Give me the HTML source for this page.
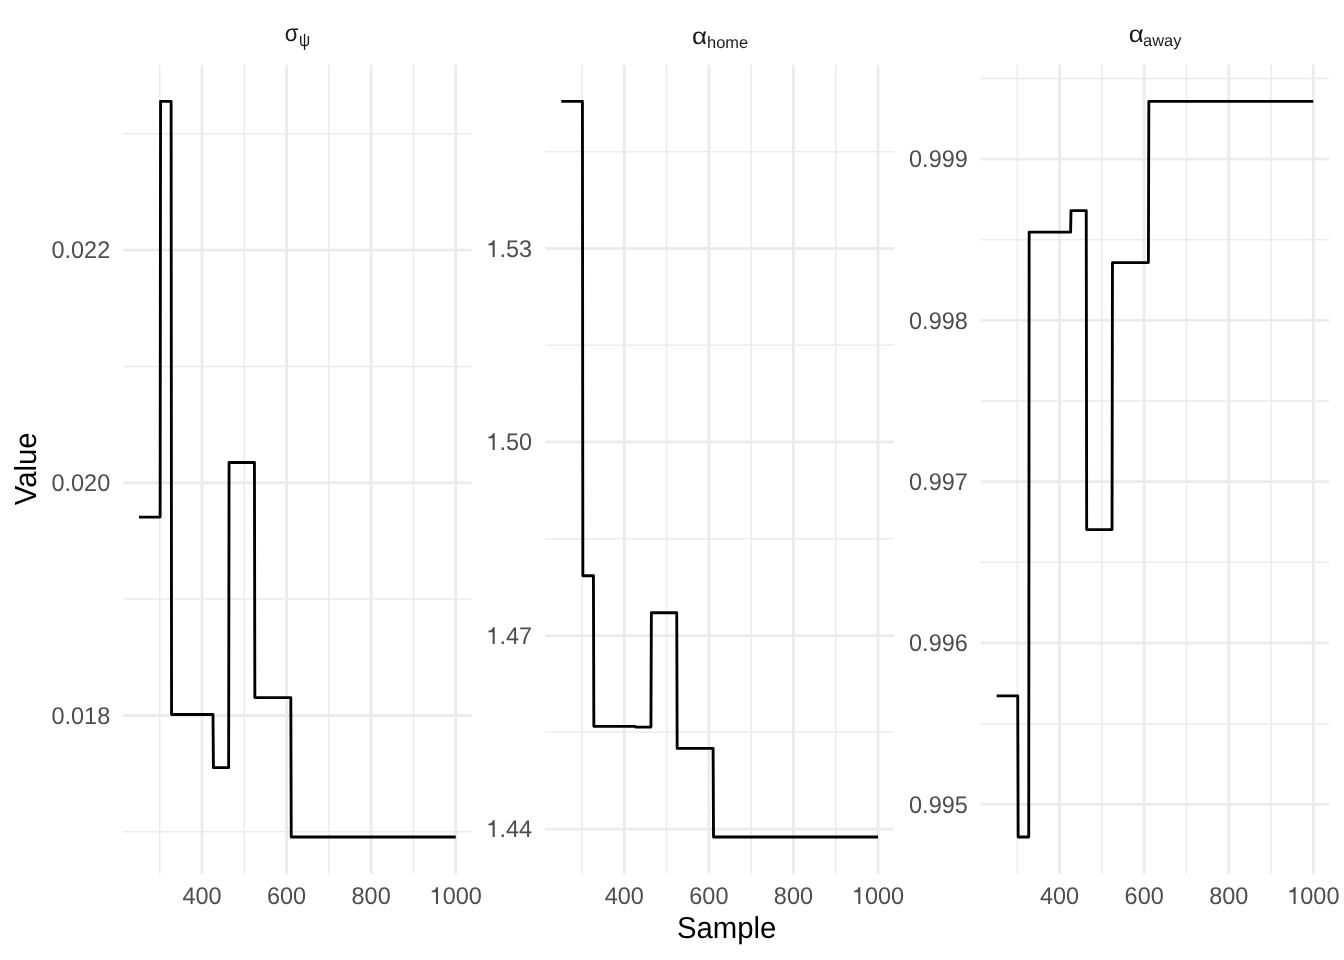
<!DOCTYPE html>
<html><head><meta charset="utf-8"><title>chart</title>
<style>
html,body{margin:0;padding:0;background:#fff;}
svg{display:block;will-change:transform;transform:translateZ(0);}
text{-webkit-font-smoothing:antialiased;text-rendering:geometricPrecision;}
text{font-family:"Liberation Sans",sans-serif;}
</style></head><body>
<svg width="1344" height="960" viewBox="0 0 1344 960">
<g fill="none" stroke="#EBEBEB" stroke-linecap="butt">
<path stroke-width="1.5" d="M123.0 133.71H471.7"/>
<path stroke-width="1.5" d="M123.0 366.41H471.7"/>
<path stroke-width="1.5" d="M123.0 599.11H471.7"/>
<path stroke-width="1.5" d="M123.0 831.82H471.7"/>
<path stroke-width="1.5" d="M159.71 64.7V873.8"/>
<path stroke-width="1.5" d="M244.29 64.7V873.8"/>
<path stroke-width="1.5" d="M328.87 64.7V873.8"/>
<path stroke-width="1.5" d="M413.45 64.7V873.8"/>
<path stroke-width="2.85" d="M123.0 250.06H471.7"/>
<path stroke-width="2.85" d="M123.0 482.76H471.7"/>
<path stroke-width="2.85" d="M123.0 715.47H471.7"/>
<path stroke-width="2.85" d="M202.0 64.7V873.8"/>
<path stroke-width="2.85" d="M286.58 64.7V873.8"/>
<path stroke-width="2.85" d="M371.16 64.7V873.8"/>
<path stroke-width="2.85" d="M455.74 64.7V873.8"/>
</g>
<path fill="none" stroke="#000" stroke-width="2.85" stroke-linejoin="round" stroke-linecap="butt" d="M138.99 517.1 L160.13 517.1 L160.56 101.3 L171.13 101.3 L171.55 714.45 L213.0 714.45 L213.42 767.65 L228.64 767.65 L229.07 462.5 L254.44 462.5 L254.86 697.6 L290.81 697.6 L291.23 837.0 L455.74 837.0"/>
<g font-size="23.47" fill="#4D4D4D">
<text transform="translate(110.2,258) scale(1,1.03)" text-anchor="end">0.022</text>
<text transform="translate(110.2,491) scale(1,1.03)" text-anchor="end">0.020</text>
<text transform="translate(110.2,724) scale(1,1.03)" text-anchor="end">0.018</text>
<text transform="translate(221.58,904) scale(1,1.03)" text-anchor="end">400</text>
<text transform="translate(306.16,904) scale(1,1.03)" text-anchor="end">600</text>
<text transform="translate(390.74,904) scale(1,1.03)" text-anchor="end">800</text>
<path transform="translate(429.28,904) scale(0.02347,-0.02347)" d="M284 0V505H102V568C209 568 269 600 301 709H373V0Z"/><text transform="translate(481.85,904) scale(1,1.03)" text-anchor="end">000</text>
</g>
<g fill="none" stroke="#EBEBEB" stroke-linecap="butt">
<path stroke-width="1.5" d="M545.3 151.74H894.0"/>
<path stroke-width="1.5" d="M545.3 345.26H894.0"/>
<path stroke-width="1.5" d="M545.3 538.79H894.0"/>
<path stroke-width="1.5" d="M545.3 732.34H894.0"/>
<path stroke-width="1.5" d="M582.01 64.7V873.8"/>
<path stroke-width="1.5" d="M666.59 64.7V873.8"/>
<path stroke-width="1.5" d="M751.17 64.7V873.8"/>
<path stroke-width="1.5" d="M835.75 64.7V873.8"/>
<path stroke-width="2.85" d="M545.3 248.5H894.0"/>
<path stroke-width="2.85" d="M545.3 442.03H894.0"/>
<path stroke-width="2.85" d="M545.3 635.57H894.0"/>
<path stroke-width="2.85" d="M545.3 829.1H894.0"/>
<path stroke-width="2.85" d="M624.3 64.7V873.8"/>
<path stroke-width="2.85" d="M708.88 64.7V873.8"/>
<path stroke-width="2.85" d="M793.46 64.7V873.8"/>
<path stroke-width="2.85" d="M878.04 64.7V873.8"/>
</g>
<path fill="none" stroke="#000" stroke-width="2.85" stroke-linejoin="round" stroke-linecap="butt" d="M561.29 101.35 L582.43 101.35 L582.86 575.75 L593.43 575.75 L593.85 726.35 L635.3 726.35 L635.72 727.1 L650.94 727.1 L651.37 612.7 L676.74 612.7 L677.16 748.4 L713.11 748.4 L713.53 837.0 L878.04 837.0"/>
<g font-size="23.47" fill="#4D4D4D">
<path transform="translate(485.96,257) scale(0.02347,-0.02347)" d="M284 0V505H102V568C209 568 269 600 301 709H373V0Z"/><text transform="translate(532.0,257) scale(1,1.03)" text-anchor="end">.53</text>
<path transform="translate(485.96,450) scale(0.02347,-0.02347)" d="M284 0V505H102V568C209 568 269 600 301 709H373V0Z"/><text transform="translate(532.0,450) scale(1,1.03)" text-anchor="end">.50</text>
<path transform="translate(485.96,644) scale(0.02347,-0.02347)" d="M284 0V505H102V568C209 568 269 600 301 709H373V0Z"/><text transform="translate(532.0,644) scale(1,1.03)" text-anchor="end">.47</text>
<path transform="translate(485.96,837) scale(0.02347,-0.02347)" d="M284 0V505H102V568C209 568 269 600 301 709H373V0Z"/><text transform="translate(532.0,837) scale(1,1.03)" text-anchor="end">.44</text>
<text transform="translate(643.88,904) scale(1,1.03)" text-anchor="end">400</text>
<text transform="translate(728.46,904) scale(1,1.03)" text-anchor="end">600</text>
<text transform="translate(813.04,904) scale(1,1.03)" text-anchor="end">800</text>
<path transform="translate(851.58,904) scale(0.02347,-0.02347)" d="M284 0V505H102V568C209 568 269 600 301 709H373V0Z"/><text transform="translate(904.15,904) scale(1,1.03)" text-anchor="end">000</text>
</g>
<g fill="none" stroke="#EBEBEB" stroke-linecap="butt">
<path stroke-width="1.5" d="M980.6 78.41H1329.2"/>
<path stroke-width="1.5" d="M980.6 239.72H1329.2"/>
<path stroke-width="1.5" d="M980.6 401.02H1329.2"/>
<path stroke-width="1.5" d="M980.6 562.34H1329.2"/>
<path stroke-width="1.5" d="M980.6 723.64H1329.2"/>
<path stroke-width="1.5" d="M1017.31 64.7V873.8"/>
<path stroke-width="1.5" d="M1101.89 64.7V873.8"/>
<path stroke-width="1.5" d="M1186.47 64.7V873.8"/>
<path stroke-width="1.5" d="M1271.05 64.7V873.8"/>
<path stroke-width="2.85" d="M980.6 159.06H1329.2"/>
<path stroke-width="2.85" d="M980.6 320.37H1329.2"/>
<path stroke-width="2.85" d="M980.6 481.68H1329.2"/>
<path stroke-width="2.85" d="M980.6 642.99H1329.2"/>
<path stroke-width="2.85" d="M980.6 804.3H1329.2"/>
<path stroke-width="2.85" d="M1059.6 64.7V873.8"/>
<path stroke-width="2.85" d="M1144.18 64.7V873.8"/>
<path stroke-width="2.85" d="M1228.76 64.7V873.8"/>
<path stroke-width="2.85" d="M1313.34 64.7V873.8"/>
</g>
<path fill="none" stroke="#000" stroke-width="2.85" stroke-linejoin="round" stroke-linecap="butt" d="M996.59 695.8 L1017.73 695.8 L1018.16 837.0 L1028.73 837.0 L1029.15 232.15 L1070.6 232.15 L1071.02 210.55 L1086.24 210.55 L1086.67 529.55 L1112.04 529.55 L1112.46 262.55 L1148.41 262.55 L1148.83 101.4 L1313.34 101.4"/>
<g font-size="23.47" fill="#4D4D4D">
<text transform="translate(967.8,167) scale(1,1.03)" text-anchor="end">0.999</text>
<text transform="translate(967.8,329) scale(1,1.03)" text-anchor="end">0.998</text>
<text transform="translate(967.8,490) scale(1,1.03)" text-anchor="end">0.997</text>
<text transform="translate(967.8,651) scale(1,1.03)" text-anchor="end">0.996</text>
<text transform="translate(967.8,813) scale(1,1.03)" text-anchor="end">0.995</text>
<text transform="translate(1079.18,904) scale(1,1.03)" text-anchor="end">400</text>
<text transform="translate(1163.76,904) scale(1,1.03)" text-anchor="end">600</text>
<text transform="translate(1248.34,904) scale(1,1.03)" text-anchor="end">800</text>
<path transform="translate(1286.88,904) scale(0.02347,-0.02347)" d="M284 0V505H102V568C209 568 269 600 301 709H373V0Z"/><text transform="translate(1339.45,904) scale(1,1.03)" text-anchor="end">000</text>
</g>
<g fill="#1A1A1A">
<text transform="translate(284.7,41) scale(0.945,1)" font-size="23.47">σ</text><text transform="translate(298.9,46) scale(0.95,1.15)" font-size="16.43">ψ</text>
<text transform="translate(692,44) scale(1.11,1)" font-size="23.47">α</text><text x="707" y="47.9" font-size="16.43">home</text>
<text transform="translate(1128.8,42) scale(1.11,1)" font-size="23.47">α</text><text x="1143" y="45.9" font-size="16.43">away</text>
</g>
<text transform="translate(726.6,938) scale(1,1.03)" font-size="29.33" text-anchor="middle" fill="#000">Sample</text>
<text transform="translate(36,468.8) rotate(-90) scale(1,1.04)" font-size="29.33" text-anchor="middle" fill="#000">Value</text>
</svg>
</body></html>
